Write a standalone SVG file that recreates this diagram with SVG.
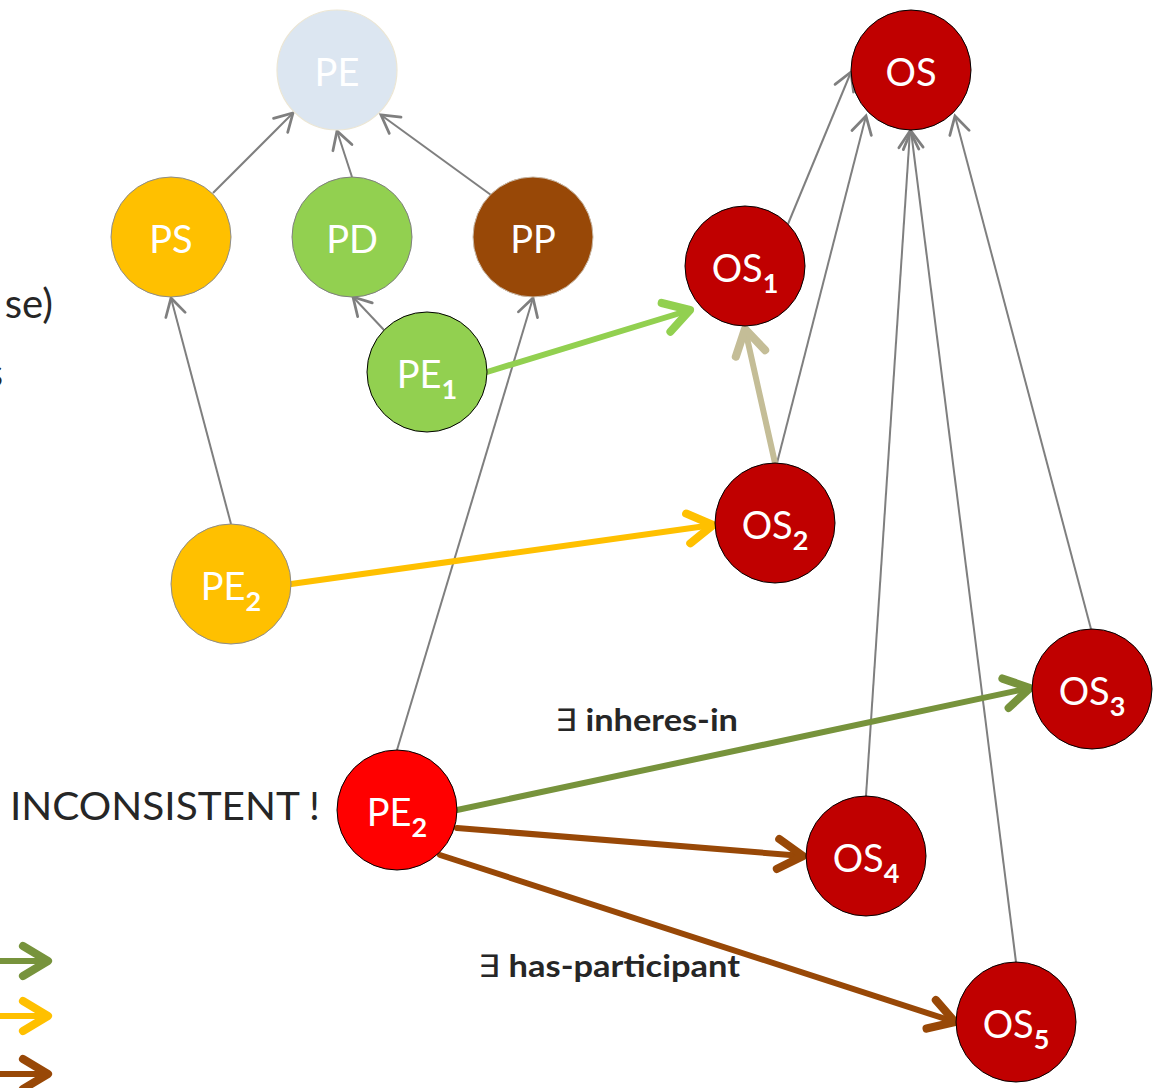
<svg xmlns="http://www.w3.org/2000/svg" width="1153" height="1088" viewBox="0 0 1153 1088">
  <style>
    .lbl { font-family: Lato, "Open Sans", "Liberation Sans", sans-serif; font-size: 38px; fill: #ffffff; text-anchor: middle; }
    .sub { font-size: 27px; font-weight: bold; }
    .txt { font-family: Lato, "Open Sans", "Liberation Sans", sans-serif; fill: #262626; }
    .rel { font-family: Lato, "Open Sans", "Liberation Sans", sans-serif; font-weight: bold; font-size: 31px; fill: #262626; }
    .ex { font-weight: normal; }
    .isa { stroke: #7f7f7f; stroke-width: 2; fill: none; marker-end: url(#headGray); }
    .thick { stroke-width: 6; fill: none; stroke-linecap: round; }
  </style>
  <defs>
    <marker id="headGray" markerUnits="userSpaceOnUse" markerWidth="30" markerHeight="30" viewBox="-20 -12 24 24" refX="0" refY="0" orient="auto">
      <path d="M -14 -8 L 0 0 L -14 8" fill="none" stroke="#7f7f7f" stroke-width="2.2" stroke-linecap="round"/>
    </marker>
    <marker id="headLime" markerUnits="userSpaceOnUse" markerWidth="40" markerHeight="40" viewBox="-28 -16 32 32" refX="0" refY="0" orient="auto">
      <path d="M -20 -12 L 0 0 L -20 12" fill="none" stroke="#92d050" stroke-width="6.5" stroke-linecap="round" stroke-linejoin="round"/>
    </marker>
    <marker id="headTan" markerUnits="userSpaceOnUse" markerWidth="40" markerHeight="40" viewBox="-28 -16 32 32" refX="0" refY="0" orient="auto">
      <path d="M -20 -12 L 0 0 L -20 12" fill="none" stroke="#c4bd97" stroke-width="6.5" stroke-linecap="round" stroke-linejoin="round"/>
    </marker>
    <marker id="headGold" markerUnits="userSpaceOnUse" markerWidth="40" markerHeight="40" viewBox="-28 -16 32 32" refX="0" refY="0" orient="auto">
      <path d="M -20 -12 L 0 0 L -20 12" fill="none" stroke="#ffc000" stroke-width="6.5" stroke-linecap="round" stroke-linejoin="round"/>
    </marker>
    <marker id="headOlive" markerUnits="userSpaceOnUse" markerWidth="40" markerHeight="40" viewBox="-28 -16 32 32" refX="0" refY="0" orient="auto">
      <path d="M -20 -12 L 0 0 L -20 12" fill="none" stroke="#77933c" stroke-width="6.5" stroke-linecap="round" stroke-linejoin="round"/>
    </marker>
    <marker id="headBrown" markerUnits="userSpaceOnUse" markerWidth="40" markerHeight="40" viewBox="-28 -16 32 32" refX="0" refY="0" orient="auto">
      <path d="M -20 -12 L 0 0 L -20 12" fill="none" stroke="#984807" stroke-width="6.5" stroke-linecap="round" stroke-linejoin="round"/>
    </marker>
  </defs>

  <rect width="1153" height="1088" fill="#ffffff"/>

  <!-- side texts running off the left edge -->
  <text class="txt" x="53" y="318" font-size="40" text-anchor="end">se)</text>
  <text class="txt" x="3" y="387" font-size="40" text-anchor="end">s</text>
  <text class="txt" x="10" y="820" font-size="38" textLength="310" lengthAdjust="spacingAndGlyphs">INCONSISTENT !</text>

  <!-- connectors -->
  <g id="connectors">
    <!-- is-a edges -->
    <line class="isa" x1="213" y1="193" x2="293" y2="113"/>
    <line class="isa" x1="352" y1="177" x2="337" y2="131"/>
    <line class="isa" x1="491" y1="195" x2="381" y2="115"/>
    <line class="isa" x1="384" y1="330" x2="353" y2="297"/>
    <line class="isa" x1="231" y1="524" x2="171" y2="298"/>
    <line class="isa" x1="397" y1="750" x2="533" y2="298"/>
    <line class="isa" x1="788" y1="224" x2="851" y2="72"/>
    <line class="isa" x1="777" y1="463" x2="866" y2="116"/>
    <line class="isa" x1="866" y1="796" x2="910" y2="131"/>
    <line class="isa" x1="1016" y1="962" x2="911" y2="131"/>
    <line class="isa" x1="1091" y1="629" x2="955" y2="116"/>

    <!-- relation edges -->
    <line class="thick" stroke="#92d050" x1="487" y1="372" x2="690" y2="310" marker-end="url(#headLime)"/>
    <line class="thick" stroke="#c4bd97" x1="775" y1="463" x2="745" y2="329" marker-end="url(#headTan)"/>
    <line class="thick" stroke="#ffc000" x1="291" y1="584" x2="713" y2="525" marker-end="url(#headGold)"/>
    <line class="thick" stroke="#77933c" x1="457" y1="810" x2="1030" y2="688" marker-end="url(#headOlive)"/>
    <line class="thick" stroke="#984807" x1="457" y1="828" x2="803" y2="856" marker-end="url(#headBrown)"/>
    <line class="thick" stroke="#984807" x1="440" y1="855" x2="955" y2="1022" marker-end="url(#headBrown)"/>

    <!-- legend arrows -->
    <line class="thick" stroke="#77933c" x1="-10" y1="961" x2="48" y2="961" marker-end="url(#headOlive)"/>
    <line class="thick" stroke="#ffc000" x1="-10" y1="1016" x2="48" y2="1016" marker-end="url(#headGold)"/>
    <line class="thick" stroke="#984807" x1="-10" y1="1074" x2="48" y2="1074" marker-end="url(#headBrown)"/>
  </g>

  <text class="rel" x="555" y="731" textLength="183" lengthAdjust="spacingAndGlyphs"><tspan class="ex">∃</tspan> inheres-in</text>
  <text class="rel" x="478" y="977" textLength="262" lengthAdjust="spacingAndGlyphs"><tspan class="ex">∃</tspan> has-participant</text>

  <!-- nodes -->
  <g id="node-PE">
    <circle cx="337" cy="70" r="60" fill="#dce6f1" stroke="#ece6d4" stroke-width="1.2"/>
    <text class="lbl" x="337" y="86">PE</text>
  </g>
  <g id="node-PS">
    <circle cx="171" cy="237" r="60" fill="#ffc000" stroke="#8c8c8c" stroke-width="1"/>
    <text class="lbl" x="171" y="253">PS</text>
  </g>
  <g id="node-PD">
    <circle cx="352" cy="237" r="60" fill="#92d050" stroke="#7f7f7f" stroke-width="1"/>
    <text class="lbl" x="352" y="253">PD</text>
  </g>
  <g id="node-PP">
    <circle cx="533" cy="237" r="60" fill="#984807" stroke="#c8b9a8" stroke-width="1"/>
    <text class="lbl" x="533" y="253">PP</text>
  </g>
  <g id="node-PE1">
    <circle cx="427" cy="372" r="60" fill="#92d050" stroke="#000000" stroke-width="1"/>
    <text class="lbl" x="427" y="388">PE<tspan class="sub" dy="11">1</tspan></text>
  </g>
  <g id="node-PE2-gold">
    <circle cx="231" cy="584" r="60" fill="#ffc000" stroke="#8c8c8c" stroke-width="1"/>
    <text class="lbl" x="231" y="600">PE<tspan class="sub" dy="11">2</tspan></text>
  </g>
  <g id="node-PE2-red">
    <circle cx="397" cy="810" r="60" fill="#ff0000" stroke="#000000" stroke-width="1"/>
    <text class="lbl" x="397" y="826">PE<tspan class="sub" dy="11">2</tspan></text>
  </g>
  <g id="node-OS">
    <circle cx="911" cy="70" r="60" fill="#c00000" stroke="#000000" stroke-width="1"/>
    <text class="lbl" x="911" y="86">OS</text>
  </g>
  <g id="node-OS1">
    <circle cx="745" cy="266" r="60" fill="#c00000" stroke="#000000" stroke-width="1"/>
    <text class="lbl" x="745" y="282">OS<tspan class="sub" dy="11">1</tspan></text>
  </g>
  <g id="node-OS2">
    <circle cx="775" cy="523" r="60" fill="#c00000" stroke="#000000" stroke-width="1"/>
    <text class="lbl" x="775" y="539">OS<tspan class="sub" dy="11">2</tspan></text>
  </g>
  <g id="node-OS3">
    <circle cx="1092" cy="689" r="60" fill="#c00000" stroke="#000000" stroke-width="1"/>
    <text class="lbl" x="1092" y="705">OS<tspan class="sub" dy="11">3</tspan></text>
  </g>
  <g id="node-OS4">
    <circle cx="866" cy="856" r="60" fill="#c00000" stroke="#000000" stroke-width="1"/>
    <text class="lbl" x="866" y="872">OS<tspan class="sub" dy="11">4</tspan></text>
  </g>
  <g id="node-OS5">
    <circle cx="1016" cy="1022" r="60" fill="#c00000" stroke="#000000" stroke-width="1"/>
    <text class="lbl" x="1016" y="1038">OS<tspan class="sub" dy="11">5</tspan></text>
  </g>
</svg>
